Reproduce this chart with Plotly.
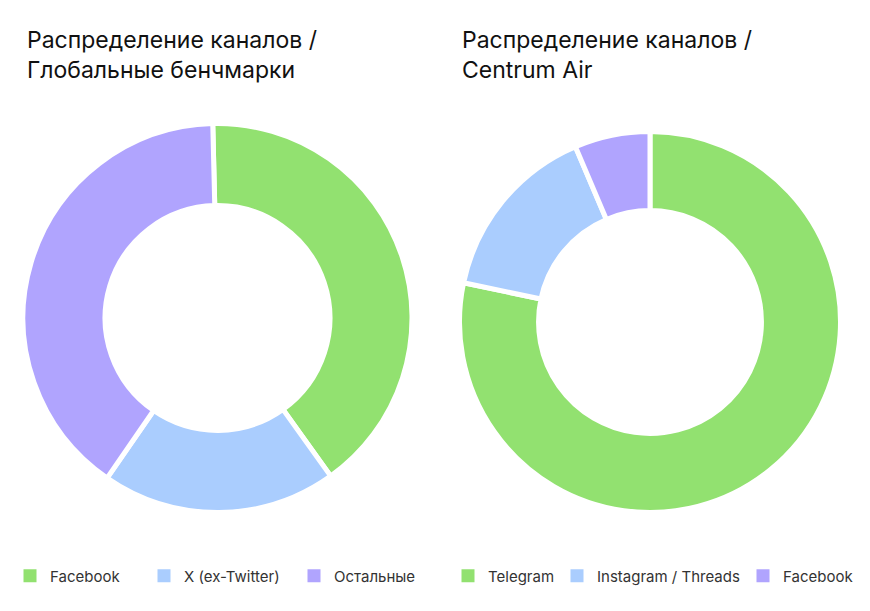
import plotly.graph_objects as go

# Data
left_labels = ["Facebook", "X (ex-Twitter)", "Остальные"]
left_values = [40.5, 19.5, 40.0]
right_labels = ["Telegram", "Instagram / Threads", "Facebook"]
right_values = [78.3, 15.3, 6.4]

left_title = "Распределение каналов /<br>Глобальные бенчмарки"
right_title = "Распределение каналов /<br>Centrum Air"

GREEN = "#92E170"
BLUE = "#AACDFE"
PURPLE = "#B0A4FE"
colors = [GREEN, BLUE, PURPLE]

W, H = 870, 611
LINE_W = 5

# legend entry left positions (px)
left_legend_x = [10, 144, 294]
right_legend_x = [448, 557, 743]


def dom(cx, cy, r):
    return dict(x=[(cx - r) / W, (cx + r) / W],
                y=[(H - cy - r) / H, (H - cy + r) / H])


fig = go.Figure()
fig.add_trace(go.Pie(
    labels=left_labels, values=left_values, hole=0.578,
    sort=False, direction="clockwise", rotation=-1.4,
    marker=dict(colors=colors, line=dict(color="white", width=LINE_W)),
    textinfo="none", hoverinfo="label+percent", showlegend=False,
    domain=dom(217.5, 318, 194.5),
))
fig.add_trace(go.Pie(
    labels=right_labels, values=right_values, hole=0.585,
    sort=False, direction="clockwise", rotation=0,
    marker=dict(colors=colors, line=dict(color="white", width=LINE_W)),
    textinfo="none", hoverinfo="label+percent", showlegend=False,
    domain=dom(650, 322, 190.5),
))

legend_common = dict(orientation="h", yanchor="middle", y=(H - 576) / H,
                     xanchor="left", font=dict(family="Inter", size=15, color="#333333"),
                     bgcolor="rgba(0,0,0,0)", itemwidth=30)

legends = {}
idx = 1
for labels, xs in ((left_labels, left_legend_x), (right_labels, right_legend_x)):
    for lab, col, lx in zip(labels, colors, xs):
        key = "legend" if idx == 1 else f"legend{idx}"
        fig.add_trace(go.Scatter(
            x=[None], y=[None], mode="markers", name=lab,
            marker=dict(symbol="square", size=13, color=col),
            legend=key, hoverinfo="skip",
        ))
        legends[key] = dict(x=lx / W, **legend_common)
        idx += 1

fig.update_layout(
    width=W, height=H,
    margin=dict(l=0, r=0, t=0, b=0),
    paper_bgcolor="white", plot_bgcolor="white",
    showlegend=True,
    xaxis=dict(visible=False), yaxis=dict(visible=False),
    annotations=[
        dict(text=left_title, x=25 / W, y=(H - 55.5) / H, xref="paper", yref="paper",
             xanchor="left", yanchor="middle", align="left", showarrow=False,
             font=dict(family="Inter", size=23, color="#111111")),
        dict(text=right_title, x=460 / W, y=(H - 55.5) / H, xref="paper", yref="paper",
             xanchor="left", yanchor="middle", align="left", showarrow=False,
             font=dict(family="Inter", size=23, color="#111111")),
    ],
    **legends,
)

fig.write_html("out.html", config={"displayModeBar": False},
               post_script="document.body.style.margin='0';")
